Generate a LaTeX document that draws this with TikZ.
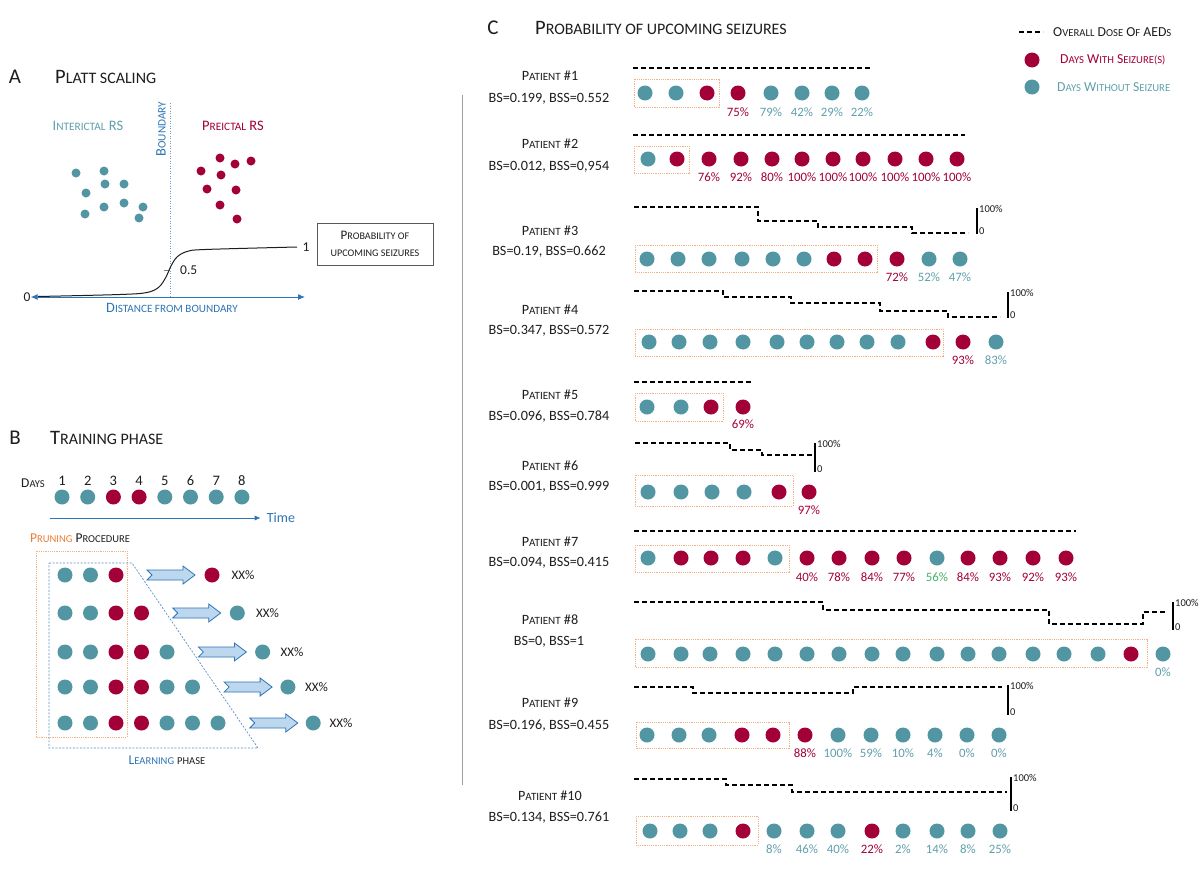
\documentclass[tikz,border=0pt]{standalone}
\usepackage{fontspec}
\usepackage{graphicx}
\setmainfont{Carlito}
\usetikzlibrary{arrows.meta}
\definecolor{tl}{RGB}{82,150,163}
\definecolor{cr}{RGB}{163,0,55}
\definecolor{tx}{RGB}{95,160,172}
\definecolor{gr}{RGB}{70,178,100}
\definecolor{bluec}{RGB}{46,117,182}
\definecolor{orng}{RGB}{244,177,131}
\definecolor{orngtxt}{RGB}{237,125,49}
\definecolor{lightb}{RGB}{189,215,238}
\definecolor{ink}{RGB}{30,30,30}
\newcommand\sca[1]{\scalebox{0.78}{#1}}
\newcommand\fsz[1]{\fontsize{#1}{#1}\selectfont}
\tikzset{
 dot/.style={circle,inner sep=0pt,minimum size=15pt},
 adot/.style={circle,inner sep=0pt,minimum size=9pt},
 pct/.style={font=\fsz{12.8}},
 plab/.style={font=\fsz{14.2},text=ink},
 ttl/.style={font=\fsz{20.5},anchor=west},
 dose/.style={draw=black,line width=1.1pt,dash pattern=on 5pt off 3pt},
 prune/.style={draw=orng,line width=0.8pt,dash pattern=on 1.2pt off 1pt},
 sbar/.style={draw=black,line width=1.1pt},
 stxt/.style={font=\fsz{10.5},anchor=west},
 blk/.style={draw=bluec,fill=lightb,line width=0.8pt},
}
\newcommand\drow[3]{\foreach \x/\c [count=\i] in {#3} {\node[dot,fill=\c] (#1d\i) at (\x,#2) {};}}
\newcommand\prow[3]{\foreach \x/\t/\c [count=\i] in {#3} {\node[pct,text=\c] (#1p\i) at (\x,#2) {\t\%};}}
\newcommand\plabel[5]{\node[plab] (#1n) at (550,#2) {P\sca{ATIENT} \##4};\node[plab] (#1b) at (549,#3) {#5};}
\newcommand\sbarx[4]{\draw[sbar] (#2,#3) -- (#2,#4);\node[stxt] (#1h) at (#2+2,#3+1) {100\%};\node[stxt] (#1z) at (#2+2,#4-3) {0};}
\newcommand\blkarrow[2]{\draw[blk] (#1,#2-5) -- ++(36,0) -- ++(0,-4) -- ++(12,9) -- ++(-12,9) -- ++(0,-4) -- ++(-36,0) -- ++(5,-5) -- cycle;}
\begin{document}
\begin{tikzpicture}[x=1pt,y=-1pt,every node/.style={inner sep=0pt,text=ink}]
\fill[white] (0,0) rectangle (1200,886);
\useasboundingbox (0,0) rectangle (1200,886);
% ---------- Panel A
\node[font=\fsz{21}] (Alab) at (15,77) {A};
\node[ttl] (Atit) at (55,77) {P\sca{LATT SCALING}};
\draw[bluec!70,line width=0.9pt,dash pattern=on 1pt off 1.5pt] (170,103) -- (170,297);
\node[rotate=90,text=bluec,font=\fsz{14.5}] (bnd) at (161,129) {B\sca{OUNDARY}};
\node[text=tx,font=\fsz{14.5}] (inter) at (88,126) {I\sca{NTERICTAL} RS};
\node[text=cr,font=\fsz{14.5}] (prei) at (233,126) {P\sca{REICTAL} RS};
\foreach \p [count=\i] in {(76,173),(104,171),(86,193),(105,184),(124,184),(104,207),(124,203),(143,207),(85,214),(139,218)}
  {\node[adot,fill=tl] (at\i) at \p {};}
\foreach \p [count=\i] in {(220,158),(235,164),(251,161),(201,171),(221,175),(207,189),(236,190),(220,205),(237,219)}
  {\node[adot,fill=cr] (ac\i) at \p {};}
\node[font=\fsz{13.5}] (zero) at (27,297) {0};
\node[font=\fsz{13.5}] (one) at (306,247) {1};
\node[font=\fsz{13.5},anchor=west] (half) at (180,270) {0.5};
\draw[gray,line width=0.6pt] (164,270) -- (170,270);
\draw[bluec,line width=1pt,{Latex[length=7pt,width=6pt]}-{Latex[length=7pt,width=6pt]}] (zero.east) -- (305,297);
\draw[ink,line width=1pt] plot[smooth,tension=0.55] coordinates {(38,296.5) (120,294.5) (147,292.5) (159,287) (166,277) (171,266) (177,257) (187,251.5) (205,249.5) (297,247)};
\node[text=bluec,font=\fsz{14.3}] (dist) at (172,308) {D\sca{ISTANCE FROM BOUNDARY}};
\node[draw=gray!70!black,line width=0.8pt,minimum width=116pt,minimum height=42pt,align=center,font=\fsz{13},text=ink] (pbox) at (375,244) {P\sca{ROBABILITY OF}\\[4pt]\sca{UPCOMING SEIZURES}};
% ---------- Panel B
\node[font=\fsz{21}] (Blab) at (15,438) {B};
\node[ttl] (Btit) at (50,438) {T\sca{RAINING PHASE}};
\node[font=\fsz{13.5}] (days) at (33,483) {D\sca{AYS}};
\foreach \i/\c in {1/tl,2/tl,3/cr,4/cr,5/tl,6/tl,7/tl,8/tl}{
  \node[font=\fsz{14.5}] (dn\i) at ({62+25.7*(\i-1)},481) {\i};
  \node[dot,fill=\c] (dd\i) at ({62+25.7*(\i-1)},497) {};
}
\node[text=bluec,font=\fsz{14}] (time) at (281,518) {Time};
\draw[bluec,line width=0.8pt,-{Latex[length=6pt,width=5pt]}] (50,518) -- ([xshift=-6pt]time.west);
\node[anchor=west,font=\fsz{13.5}] (prun) at (30,538) {\textcolor{orngtxt}{P\sca{RUNING}} P\sca{ROCEDURE}};
\draw[prune] (36,551) rectangle (127,737);
\draw[bluec!80,line width=0.7pt,dash pattern=on 2pt off 1.5pt] (49,563) -- (132,563) -- (258,748) -- (49,748) -- cycle;
\foreach \r/\y in {0/575,1/613,2/652,3/687,4/723}{
  \pgfmathtruncatemacro\n{3+\r}
  \foreach \j in {1,...,\n}{
    \ifnum\j=3 \def\cc{cr}\else\ifnum\j=4 \def\cc{cr}\else\def\cc{tl}\fi\fi
    \node[dot,fill=\cc] (r\r d\j) at ({65+25.5*(\j-1)},\y) {};
  }
  \ifnum\r=0 \def\rc{cr}\else\def\rc{tl}\fi
  \blkarrow{147+25.7*\r}{\y}
  \node[dot,fill=\rc] (r\r res) at ({212+25.3*\r},\y) {};
  \node[font=\fsz{13}] (r\r xx) at ({243+24.5*\r},\y) {XX\%};
}
\node[font=\fsz{13.5}] (learn) at (167,760) {\textcolor{bluec}{L\sca{EARNING}} \sca{PHASE}};
% divider
\draw[gray!75,line width=0.8pt] (462,95) -- (462,785);
% ---------- Panel C
\node[font=\fsz{21}] (Clab) at (493,28) {C};
\node[ttl] (Ctit) at (535,28) {P\sca{ROBABILITY OF UPCOMING SEIZURES}};
% legend
\draw[dose] (1019,32) -- (1043,32);
\node[anchor=west,font=\fsz{13.7}] (lg1) at (1053,32) {O\sca{VERALL} D\sca{OSE} O\sca{F} AED\sca{S}};
\node[dot,fill=cr] (lgc) at (1032,60) {};
\node[anchor=west,font=\fsz{13.7},text=cr] (lg2) at (1060,60) {D\sca{AYS} W\sca{ITH} S\sca{EIZURE(S)}};
\node[dot,fill=tl] (lgt) at (1032,87) {};
\node[anchor=west,font=\fsz{13.7},text=tx] (lg3) at (1057,87) {D\sca{AYS} W\sca{ITHOUT} S\sca{EIZURE}};
% Patient 1
\plabel{pa}{76}{99}{1}{BS=0.199, BSS=0.552}
\draw[dose] (633,68) -- (871,68);
\draw[prune] (634,79) rectangle (719,107);
\drow{pa}{93}{645/tl,676/tl,707/cr,738/cr,771/tl,802/tl,832/tl,862/tl}
\prow{pa}{112}{738/75/cr,771/79/tx,802/42/tx,832/29/tx,862/22/tx}
% Patient 2
\plabel{pb}{144}{167}{2}{BS=0.012, BSS=0,954}
\draw[dose] (633,135) -- (965,135);
\draw[prune] (634,146) rectangle (689,173);
\drow{pb}{159}{648/tl,677/cr,709/cr,741/cr,772/cr,802/cr,833/cr,863/cr,895/cr,926/cr,957/cr}
\prow{pb}{177}{709/76/cr,741/92/cr,772/80/cr,802/100/cr,833/100/cr,863/100/cr,895/100/cr,926/100/cr,957/100/cr}
% Patient 3
\plabel{pc}{231}{252}{3}{BS=0.19, BSS=0.662}
\draw[dose] (634,207) -- (758,207) -- (758,221) -- (818,221) -- (818,227) -- (912,227) -- (912,233) -- (968,233);
\sbarx{pc}{977}{208}{234}
\draw[prune] (635,245) rectangle (877,272);
\drow{pc}{259}{647/tl,678/tl,709/tl,742/tl,773/tl,804/tl,834/cr,865/cr,897/cr,929/tl,960/tl}
\prow{pc}{277}{897/72/cr,929/52/tx,960/47/tx}
% Patient 4
\plabel{pd}{310}{331}{4}{BS=0.347, BSS=0.572}
\draw[dose] (634,291) -- (723,291) -- (723,297) -- (791,297) -- (791,303) -- (880,303) -- (880,311) -- (948,311) -- (948,317) -- (1000,317);
\sbarx{pd}{1008}{292}{318}
\draw[prune] (635,329) rectangle (943,356);
\drow{pd}{342}{649/tl,679/tl,710/tl,743/tl,777/tl,807/tl,837/tl,867/tl,898/tl,933/cr,963/cr,996/tl}
\prow{pd}{360}{963/93/cr,996/83/tx}
% Patient 5
\plabel{pe}{395}{417}{5}{BS=0.096, BSS=0.784}
\draw[dose] (634,382) -- (752,382);
\draw[prune] (635,393) rectangle (723,421);
\drow{pe}{407}{647/tl,681/tl,711/cr,743/cr}
\prow{pe}{424}{743/69/cr}
% Patient 6
\plabel{pf}{466}{487}{6}{BS=0.001, BSS=0.999}
\draw[dose] (635,443) -- (730,443) -- (730,450) -- (762,450) -- (762,455) -- (812,455);
\sbarx{pf}{815}{443}{472}
\draw[prune] (635,475) rectangle (793,506);
\drow{pf}{492}{648/tl,681/tl,712/tl,744/tl,779/cr,809/cr}
\prow{pf}{510}{809/97/cr}
% Patient 7
\plabel{pg}{542}{563}{7}{BS=0.094, BSS=0.415}
\draw[dose] (634,531) -- (1076,531);
\draw[prune] (635,545) rectangle (789,572);
\drow{pg}{558}{648/tl,681/cr,711/cr,743/cr,775/tl,807/cr,839/cr,872/cr,904/cr,937/tl,968/cr,1000/cr,1033/cr,1066/cr}
\prow{pg}{577}{807/40/cr,839/78/cr,872/84/cr,904/77/cr,937/56/gr,968/84/cr,1000/93/cr,1033/92/cr,1066/93/cr}
% Patient 8
\plabel{ph}{620}{642}{8}{BS=0, BSS=1}
\draw[dose] (634,602) -- (823,602) -- (823,610) -- (1049,610) -- (1049,624) -- (1143,624) -- (1143,612) -- (1167,612);
\sbarx{ph}{1173}{602}{630}
\draw[prune] (635,639) rectangle (1147,667);
\drow{ph}{654}{648/tl,681/tl,710/tl,743/tl,775/tl,807/tl,839/tl,872/tl,903/tl,937/tl,968/tl,999/tl,1033/tl,1064/tl,1098/tl,1131/cr,1163/tl}
\prow{ph}{672}{1163/0/tx}
% Patient 9
\plabel{pi}{703}{726}{9}{BS=0.196, BSS=0.455}
\draw[dose] (634,687) -- (693,687) -- (693,693) -- (853,693) -- (853,687) -- (1002,687);
\sbarx{pi}{1008}{685}{715}
\draw[prune] (636,722) rectangle (789,748);
\drow{pi}{735}{647/tl,679/tl,709/tl,742/cr,773/cr,805/cr,838/tl,871/tl,903/tl,935/tl,967/tl,999/tl}
\prow{pi}{753}{805/88/cr,838/100/tx,871/59/tx,903/10/tx,935/4/tx,967/0/tx,999/0/tx}
% Patient 10
\plabel{pj}{796}{818}{10}{BS=0.134, BSS=0.761}
\draw[dose] (634,779) -- (726,779) -- (726,785) -- (792,785) -- (792,792) -- (1007,792);
\sbarx{pj}{1011}{777}{811}
\draw[prune] (636,816) rectangle (758,845);
\drow{pj}{831}{650/tl,680/tl,710/tl,743/cr,774/tl,807/tl,838/tl,872/cr,903/tl,937/tl,968/tl,1000/tl}
\prow{pj}{849}{774/8/tx,807/46/tx,838/40/tx,872/22/cr,903/2/tx,937/14/tx,968/8/tx,1000/25/tx}
\end{tikzpicture}
\end{document}
